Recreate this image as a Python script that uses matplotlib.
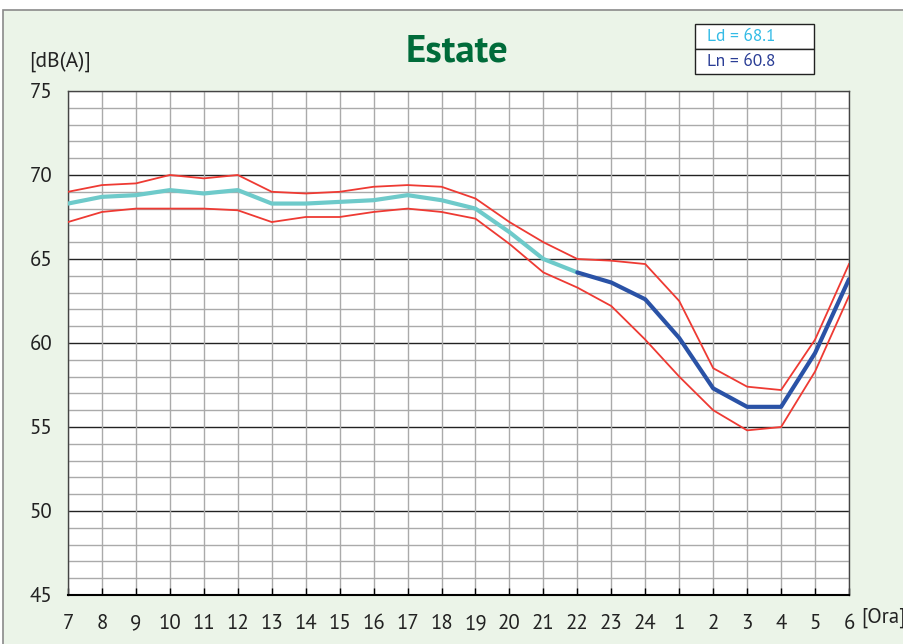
import numpy as np
import matplotlib.pyplot as plt
from matplotlib.patches import Rectangle

# hours of the day, starting at 7
ore = ['7', '8', '9', '10', '11', '12', '13', '14', '15', '16', '17', '18',
       '19', '20', '21', '22', '23', '24', '1', '2', '3', '4', '5', '6']

livello_max = [69.0, 69.4, 69.5, 70.0, 69.8, 70.0, 69.0, 68.9, 69.0, 69.3, 69.4, 69.3,
               68.6, 67.2, 66.0, 65.0, 64.9, 64.7, 62.5, 58.5, 57.4, 57.2, 60.2, 64.7]
livello_min = [67.2, 67.8, 68.0, 68.0, 68.0, 67.9, 67.2, 67.5, 67.5, 67.8, 68.0, 67.8,
               67.4, 65.9, 64.2, 63.3, 62.2, 60.2, 58.0, 56.0, 54.8, 55.0, 58.3, 62.8]
livello_medio = [68.3, 68.7, 68.8, 69.1, 68.9, 69.1, 68.3, 68.3, 68.4, 68.5, 68.8, 68.5,
                 68.0, 66.6, 65.0, 64.2, 63.6, 62.6, 60.3, 57.3, 56.2, 56.2, 59.4, 63.8]

Ld = 68.1
Ln = 60.8
idx_22 = ore.index('22')

font = ['PT Sans', 'DejaVu Sans']

fig = plt.figure(figsize=(9.04, 6.44), dpi=100)
fig.patch.set_facecolor('white')
# green panel with grey frame
fig.patches.append(Rectangle((3 / 904, -0.2), 1.5, (634 + 0.2 * 644) / 644,
                             transform=fig.transFigure, facecolor='#EBF4E8',
                             edgecolor='#8A8A8A', linewidth=1.2, zorder=-10))

ax = fig.add_axes([68 / 904, 49 / 644, 781 / 904, 504 / 644])
ax.set_facecolor('white')
x = np.arange(len(ore))

# grid
for v in range(45, 76):
    if v % 5 == 0 and v not in (45, 75):
        ax.axhline(v, color='#222222', lw=1.0, zorder=1)
    else:
        ax.axhline(v, color='#AAAAAA', lw=1.0, zorder=1)
for xi in x:
    ax.axvline(xi, color='#AAAAAA', lw=1.0, zorder=1)

ax.plot(x, livello_max, color='#EE3A33', lw=1.3, zorder=3)
ax.plot(x, livello_min, color='#EE3A33', lw=1.3, zorder=3)
ax.plot(x[:idx_22 + 1], livello_medio[:idx_22 + 1], color='#6ECACA', lw=3, zorder=4,
        solid_capstyle='round')
ax.plot(x[idx_22:], livello_medio[idx_22:], color='#2A52A6', lw=3, zorder=4,
        solid_capstyle='round')

ax.set_xlim(0, len(ore) - 1)
ax.set_ylim(45, 75)
ax.set_xticks(x)
ax.set_xticklabels(ore, family=font, fontsize=15, color='#222222')
ax.set_yticks(range(45, 76, 5))
ax.set_yticklabels([str(v) for v in range(45, 76, 5)], family=font, fontsize=15,
                   color='#222222')
ax.tick_params(axis='x', direction='in', length=5, width=1, color='black', pad=14)
ax.tick_params(axis='y', length=0, pad=11.5)
for s in ax.spines.values():
    s.set_color('#444444')
    s.set_linewidth(1.0)
ax.spines['bottom'].set_color('black')
ax.spines['bottom'].set_linewidth(1.5)

fig.text(457 / 904, 1 - 52 / 644, 'Estate', ha='center', va='center', color='#006B3A',
         fontsize=28, fontweight='bold', family=font)
fig.text(29 / 904, 1 - 62 / 644, '[dB(A)]', ha='left', va='center', color='#222222',
         fontsize=15.5, family=font)
fig.text(861 / 904, 1 - 618 / 644, '[Ora]', ha='left', va='center', color='#222222',
         fontsize=15, family=font)

# Ld / Ln box
for i, (txt, col) in enumerate([('Ld = %.1f' % Ld, '#33BBE6'), ('Ln = %.1f' % Ln, '#2B3E96')]):
    y0 = 1 - (49 + i * 25) / 644
    fig.patches.append(Rectangle((695 / 904, y0), 119 / 904, 25 / 644,
                                 transform=fig.transFigure, facecolor='white',
                                 edgecolor='#222222', linewidth=1.0))
    fig.text(707 / 904, y0 + 12 / 644, txt, ha='left', va='center', color=col,
             fontsize=12.5, family=font)

fig.savefig('out.png', dpi=100, facecolor=fig.get_facecolor())
